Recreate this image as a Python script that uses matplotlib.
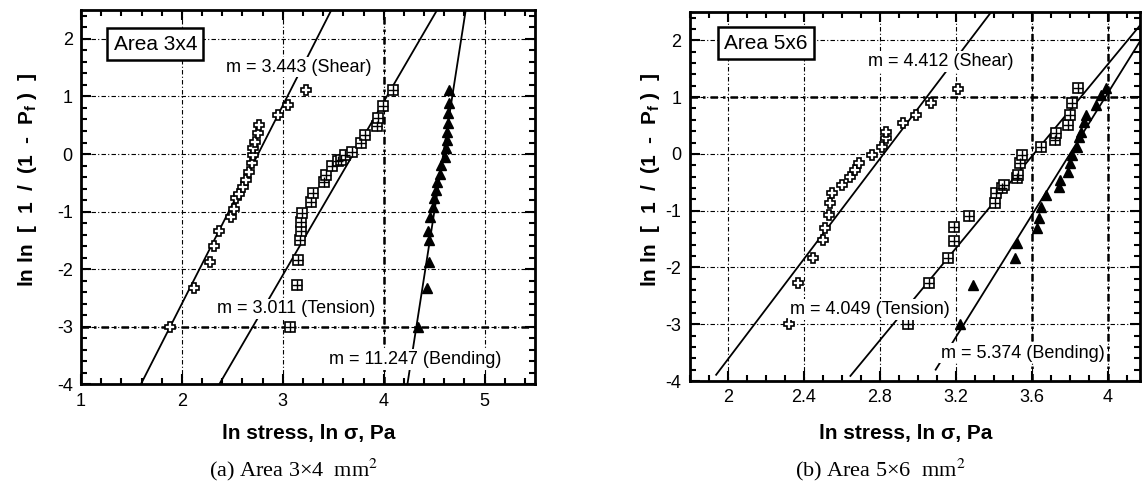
import matplotlib
matplotlib.use("Agg")
import matplotlib.pyplot as plt
from matplotlib.ticker import MultipleLocator
import numpy as np

plt.rcParams['font.family'] = ['Liberation Sans', 'DejaVu Sans']
plt.rcParams['mathtext.fontset'] = 'custom'
plt.rcParams['mathtext.rm'] = 'Liberation Sans'
plt.rcParams['mathtext.bf'] = 'Liberation Sans:bold'

# ---------------- data: (a) Area 3x4 ----------------
a_shear_x = [1.88, 2.12, 2.28, 2.32, 2.37, 2.49, 2.52, 2.54, 2.57, 2.61, 2.64, 2.67, 2.69,
             2.70, 2.70, 2.72, 2.75, 2.76, 2.95, 3.05, 3.23]
a_shear_y = [-3.00, -2.32, -1.88, -1.59, -1.33, -1.09, -0.95, -0.77, -0.69, -0.57, -0.45, -0.31,
             -0.16, -0.02, 0.10, 0.21, 0.36, 0.51, 0.68, 0.86, 1.12]
a_tens_x = [3.07, 3.14, 3.15, 3.17, 3.18, 3.18, 3.19, 3.28, 3.30, 3.41, 3.43, 3.49, 3.55,
            3.58, 3.62, 3.69, 3.78, 3.81, 3.93, 3.94, 3.99, 4.09]
a_tens_y = [-3.00, -2.27, -1.84, -1.50, -1.33, -1.18, -1.03, -0.83, -0.67, -0.48, -0.37, -0.20,
            -0.12, -0.10, -0.02, 0.04, 0.19, 0.33, 0.48, 0.62, 0.83, 1.12]
a_bend_x = [4.34, 4.43, 4.45, 4.45, 4.44, 4.46, 4.49, 4.50, 4.52, 4.53, 4.56, 4.57, 4.61,
            4.62, 4.63, 4.63, 4.64, 4.64, 4.65, 4.65]
a_bend_y = [-3.00, -2.32, -1.88, -1.50, -1.33, -1.09, -0.92, -0.77, -0.63, -0.48, -0.34, -0.19,
            -0.05, 0.10, 0.24, 0.39, 0.54, 0.71, 0.88, 1.12]
# fitted Weibull lines: slope m, intercept b, start of fit line
a_fit_m = [3.443, 3.011, 11.247]
a_fit_b = [-9.485, -11.136, -51.631]
a_fit_x0 = [1.0, 1.0, 1.0]
a_fit_labels = ['m = 3.443 (Shear)', 'm = 3.011 (Tension)', 'm = 11.247 (Bending)']

# ---------------- data: (b) Area 5x6 ----------------
b_shear_x = [2.32, 2.37, 2.45, 2.50, 2.51, 2.53, 2.54, 2.55, 2.60, 2.645, 2.67, 2.69, 2.76,
             2.81, 2.83, 2.835, 2.92, 2.99, 3.07, 3.21]
b_shear_y = [-3.00, -2.28, -1.84, -1.51, -1.30, -1.07, -0.87, -0.69, -0.55, -0.40, -0.28, -0.16,
             -0.02, 0.13, 0.28, 0.39, 0.54, 0.69, 0.89, 1.14]
b_tens_x = [2.95, 3.06, 3.16, 3.19, 3.19, 3.27, 3.405, 3.41, 3.445, 3.455, 3.52, 3.525, 3.54,
            3.55, 3.65, 3.72, 3.73, 3.79, 3.80, 3.81, 3.845]
b_tens_y = [-3.00, -2.28, -1.84, -1.54, -1.28, -1.09, -0.87, -0.69, -0.60, -0.55, -0.43, -0.37,
            -0.16, -0.02, 0.13, 0.25, 0.36, 0.51, 0.69, 0.89, 1.16]
b_bend_x = [3.22, 3.29, 3.51, 3.52, 3.63, 3.64, 3.65, 3.675, 3.745, 3.75, 3.79, 3.80, 3.81,
            3.84, 3.85, 3.86, 3.877, 3.886, 3.94, 3.965, 3.99]
b_bend_y = [-3.00, -2.31, -1.84, -1.57, -1.31, -1.13, -0.93, -0.72, -0.58, -0.46, -0.31, -0.16,
            -0.02, 0.13, 0.30, 0.39, 0.57, 0.69, 0.86, 1.04, 1.16]
b_fit_m = [4.412, 4.049, 5.374]
b_fit_b = [-12.441, -14.620, -20.427]
b_fit_x0 = [1.938, 2.645, 3.094]
b_fit_labels = ['m = 4.412 (Shear)', 'm = 4.049 (Tension)', 'm = 5.374 (Bending)']

fig = plt.figure(figsize=(11.44, 4.95), dpi=100)
ax1 = fig.add_axes([0.0708, 0.2236, 0.3969, 0.756])
ax2 = fig.add_axes([0.6031, 0.2303, 0.3934, 0.7455])

grid_ls = (0, (4, 2, 1, 2))


def draw(ax, xlim, xmaj, xmin, sx, sy, tx, ty, bx, by, fm, fb, fx0, labels, label_pos,
         area, area_pos, bold_h, bold_v):
    ax.set_xlim(*xlim)
    ax.set_ylim(-4, 2.5)
    ax.xaxis.set_major_locator(MultipleLocator(xmaj))
    ax.xaxis.set_minor_locator(MultipleLocator(xmin))
    ax.yaxis.set_major_locator(MultipleLocator(1))
    ax.yaxis.set_minor_locator(MultipleLocator(0.2))
    ax.grid(True, which='major', color='black', lw=0.8, ls=grid_ls, zorder=0)
    for v in bold_h:
        ax.axhline(v, color='black', lw=1.8, ls=(0, (3, 2, 1, 2)), zorder=0.5)
    for v in bold_v:
        ax.axvline(v, color='black', lw=1.8, ls=(0, (3, 2, 1, 2)), zorder=0.5)
    ax.tick_params(which='both', direction='in', top=True, right=True, width=1.5,
                   labelsize=13, pad=6)
    ax.tick_params(which='major', length=7)
    ax.tick_params(which='minor', length=4)
    for s in ax.spines.values():
        s.set_linewidth(2)
    ax.set_yticks(np.arange(-4, 3, 1))
    ax.set_yticklabels([str(v) for v in range(-4, 3)])

    # fit lines
    for m, b, x0 in zip(fm, fb, fx0):
        xs = np.linspace(max(x0, xlim[0]), xlim[1], 50)
        ax.plot(xs, m * xs + b, color='black', lw=1.3, zorder=2)

    # data
    ax.plot(sx, sy, ls='none', marker='P', ms=7.5, mfc='white', mec='black', mew=1.2, zorder=3)
    ax.plot(tx, ty, ls='none', marker='s', ms=6.5, mfc='white', mec='black', mew=1.2, zorder=3)
    ax.plot(tx, ty, ls='none', marker='+', ms=6.5, mec='black', mew=1.0, zorder=3.1)
    ax.plot(bx, by, ls='none', marker='^', ms=7, mfc='black', mec='black', zorder=3)

    for txt, (x, y) in zip(labels, label_pos):
        ax.text(x, y, txt, ha='center', va='center', fontsize=13, zorder=4,
                bbox=dict(boxstyle='square,pad=0.1', fc='white', ec='none'))
    ax.text(area_pos[0], area_pos[1], area, ha='center', va='center', fontsize=15, zorder=5,
            bbox=dict(boxstyle='square,pad=0.3', fc='white', ec='black', lw=1.8))

    ax.set_xlabel('ln stress, ln \u03c3, Pa', fontsize=15, fontweight='bold')
    ax.set_ylabel(r'ln ln  [  1  /  (1  -  P$_\mathbf{f}$ )  ]', fontsize=15, fontweight='bold')


draw(ax1, (1, 5.5), 1, 0.2, a_shear_x, a_shear_y, a_tens_x, a_tens_y, a_bend_x, a_bend_y,
     a_fit_m, a_fit_b, a_fit_x0, a_fit_labels,
     [(3.16, 1.51), (3.135, -2.69), (4.315, -3.57)],
     'Area 3x4', (1.736, 1.91), [-3], [4])
draw(ax2, (1.8, 4.17), 0.4, 0.1, b_shear_x, b_shear_y, b_tens_x, b_tens_y, b_bend_x, b_bend_y,
     b_fit_m, b_fit_b, b_fit_x0, b_fit_labels,
     [(3.12, 1.63), (2.747, -2.74), (3.553, -3.51)],
     'Area 5x6', (2.2, 1.95), [1], [3.6, 4])
ax2.set_xticks([2, 2.4, 2.8, 3.2, 3.6, 4])
ax2.set_xticklabels(['2', '2.4', '2.8', '3.2', '3.6', '4'])

ax1.xaxis.set_label_coords(0.502, -0.106)
ax2.xaxis.set_label_coords(0.48, -0.117)
ax1.yaxis.set_label_coords(-0.093, 0.546)
ax2.yaxis.set_label_coords(-0.062, 0.545)

fig.text(294 / 1144, 1 - 470 / 495, '(a) Area 3\u00d74  mm$^2$', ha='center', va='center',
         fontsize=16, family='Liberation Serif', math_fontfamily='stix')
fig.text(880 / 1144, 1 - 470 / 495, '(b) Area 5\u00d76  mm$^2$', ha='center', va='center',
         fontsize=16, family='Liberation Serif', math_fontfamily='stix')

fig.savefig('out.png', dpi=100)
